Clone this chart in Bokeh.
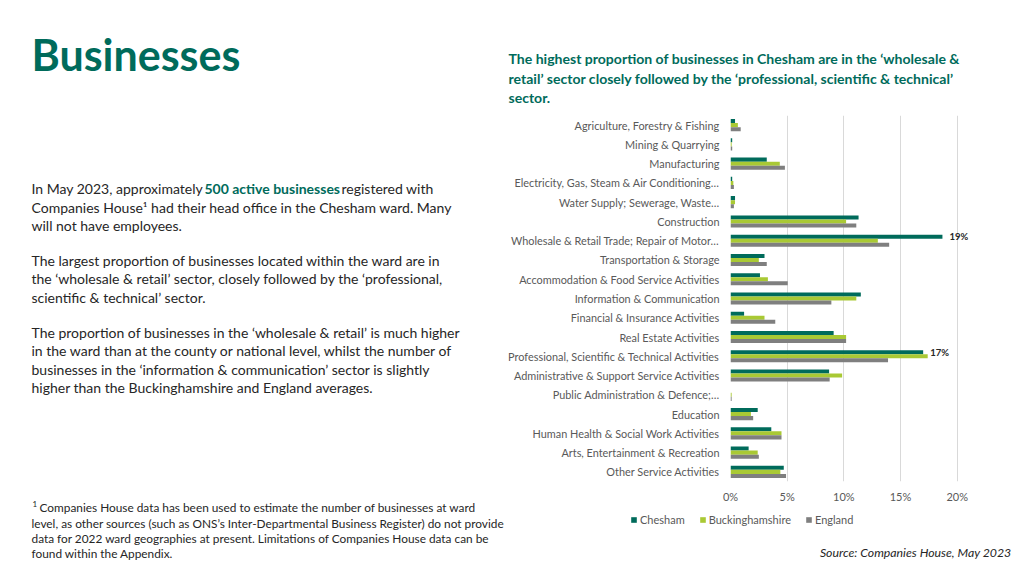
from bokeh.plotting import figure
from bokeh.models import (ColumnDataSource, FactorRange, Range1d, FixedTicker,
                          PrintfTickFormatter, Legend, LegendItem, LabelSet)
from bokeh.core.properties import value
from bokeh.layouts import row, column
from bokeh.transform import dodge
from bokeh.embed import file_html
from bokeh.resources import INLINE

# ---------------- data ----------------
sectors = [
    "Agriculture, Forestry & Fishing",
    "Mining & Quarrying",
    "Manufacturing",
    "Electricity, Gas, Steam & Air Conditioning…",
    "Water Supply; Sewerage, Waste…",
    "Construction",
    "Wholesale & Retail Trade; Repair of Motor…",
    "Transportation & Storage",
    "Accommodation & Food Service Activities",
    "Information & Communication",
    "Financial & Insurance Activities",
    "Real Estate Activities",
    "Professional, Scientific & Technical Activities",
    "Administrative & Support Service Activities",
    "Public Administration & Defence;…",
    "Education",
    "Human Health & Social Work Activities",
    "Arts, Entertainment & Recreation",
    "Other Service Activities",
]
chesham = [0.4, 0.15, 3.2, 0.15, 0.4, 11.3, 18.7, 3.0, 2.6, 11.5, 1.2, 9.1, 17.0, 8.7, 0.0, 2.4, 3.6, 1.6, 4.7]
bucks   = [0.65, 0.1, 4.35, 0.25, 0.4, 10.2, 13.0, 2.5, 3.3, 11.1, 3.0, 10.2, 17.4, 9.85, 0.1, 1.8, 4.5, 2.4, 4.4]
england = [0.9, 0.15, 4.8, 0.3, 0.3, 11.1, 14.0, 3.2, 5.05, 8.9, 3.95, 10.2, 13.9, 8.75, 0.1, 2.0, 4.5, 2.5, 4.9]
series_names = ["Chesham", "Buckinghamshire", "England"]
series_colors = ["#006B5B", "#A9C934", "#7F7F7F"]
x_ticks = [0, 5, 10, 15, 20]

TEAL = series_colors[0]
INK = "#262626"
AXIS_INK = "#595959"
FONT = "Lato"

# ---------------- layout (page pixels) ----------------
W, H = 1016, 568
SPLIT = 505                       # left text column | right chart column
TOP_H = 110                       # right column: title strip height
CH_Y1 = 510                       # bottom of chart figure
FL, FR, FT, FB = 730, 968, 115, 481   # chart frame edges in page coordinates


def text_panel(x0, x1, y0, y1):
    f = figure(width=x1 - x0, height=y1 - y0, output_backend="svg", toolbar_location=None,
               x_range=Range1d(x0, x1), y_range=Range1d(y1, y0),
               x_axis_type=None, y_axis_type=None, min_border=0, frame_align=False)
    f.outline_line_color = None
    f.grid.visible = False
    f.border_fill_color = "white"
    return f


def put(f, x, y, s, size, color=INK, style="normal", align="left"):
    f.text(x=[x], y=[y], text=[s], text_font=value(FONT), text_font_size=value(size),
           text_color=color, text_font_style=style, text_align=align, text_baseline="middle")


# ---------- left text column ----------
left = text_panel(0, SPLIT, 0, H)
put(left, 31, 54, "Businesses", "43px", TEAL, "bold")

BS = "14px"
put(left, 31, 188, "In May 2023, approximately", BS)
put(left, 204, 188, "500 active businesses", BS, TEAL, "bold")
put(left, 341, 188, "registered with", BS)
body = [
    (206.5, "Companies House¹ had their head office in the Chesham ward. Many"),
    (225, "will not have employees."),
    (260, "The largest proportion of businesses located within the ward are in"),
    (278, "the ‘wholesale & retail’ sector, closely followed by the ‘professional,"),
    (296.5, "scientific & technical’ sector."),
    (332, "The proportion of businesses in the ‘wholesale & retail’ is much higher"),
    (350, "in the ward than at the county or national level, whilst the number of"),
    (368.5, "businesses in the ‘information & communication’ sector is slightly"),
    (387, "higher than the Buckinghamshire and England averages."),
]
for y, s in body:
    put(left, 31, y, s, BS)

put(left, 32, 503, "1", "8px")
foot = [
    (507, "Companies House data has been used to estimate the number of businesses at ward", 39),
    (522.5, "level, as other sources (such as ONS’s Inter-Departmental Business Register) do not provide", 31),
    (538, "data for 2022 ward geographies at present. Limitations of Companies House data can be", 31),
    (553, "found within the Appendix.", 31),
]
for y, s, x in foot:
    put(left, x, y, s, "11.85px")

# ---------- right column: chart title ----------
top = text_panel(SPLIT, W, 0, TOP_H)
for i, line in enumerate(["The highest proportion of businesses in Chesham are in the ‘wholesale &",
                          "retail’ sector closely followed by the ‘professional, scientific & technical’",
                          "sector."]):
    put(top, 508, 58 + i * 19.5, line, "14.05px", TEAL, "bold")

# ---------- right column: chart ----------
src = ColumnDataSource(dict(sector=sectors, chesham=chesham, bucks=bucks, england=england))
p = figure(width=W - SPLIT, height=CH_Y1 - TOP_H, output_backend="svg", toolbar_location=None,
           y_range=FactorRange(factors=list(reversed(sectors)), range_padding=0),
           x_range=Range1d(0, 21), frame_align=False,
           min_border_left=FL - SPLIT, min_border_right=W - FR,
           min_border_top=FT - TOP_H, min_border_bottom=CH_Y1 - FB)
p.outline_line_color = None
p.border_fill_color = "white"

bw = 0.21
for col, off, c in zip(["chesham", "bucks", "england"], [bw, 0, -bw], series_colors):
    p.hbar(y=dodge("sector", off, range=p.y_range), right=col, left=0, height=bw,
           source=src, color=c, line_color=None)

lab_idx = [i for i, v in enumerate(chesham) if v >= 15]
lab_src = ColumnDataSource(dict(sector=[sectors[i] for i in lab_idx],
                                v=[chesham[i] for i in lab_idx],
                                t=[f"{round(chesham[i])}%" for i in lab_idx]))
p.add_layout(LabelSet(x="v", y=dodge("sector", bw, range=p.y_range), text="t", source=lab_src,
                      x_offset=7, text_baseline="middle", text_font=value(FONT),
                      text_font_style="bold", text_font_size=value("9.5px"), text_color=INK))

for ax in (p.xaxis, p.yaxis):
    ax.axis_line_color = None
    ax.major_tick_line_color = None
    ax.minor_tick_line_color = None
    ax.major_tick_out = 0
    ax.major_tick_in = 0
    ax.minor_tick_out = 0
    ax.minor_tick_in = 0
    ax.major_label_text_font = FONT
    ax.major_label_text_color = AXIS_INK

p.xaxis.ticker = FixedTicker(ticks=x_ticks)
p.xaxis.formatter = PrintfTickFormatter(format="%d%%")
p.xaxis.major_label_standoff = 8
p.xaxis.major_label_text_font_size = "11px"

p.yaxis.major_label_standoff = 11
p.yaxis.major_label_text_font_size = "10.9px"

p.xgrid.grid_line_color = "#D9D9D9"
p.xgrid.ticker = FixedTicker(ticks=x_ticks)
p.ygrid.grid_line_color = None

# ---------- right column: legend + source ----------
bot = text_panel(SPLIT, W, CH_Y1, H)
# legend keys: one off-screen square per series so the legend can draw its swatch
keys = [bot.rect(x=[-1e4], y=[-1e4], width=1, height=1, color=c, line_color=None)
        for c in series_colors]
legend = Legend(items=[LegendItem(label=n, renderers=[r]) for n, r in zip(series_names, keys)],
                orientation="horizontal", location=(630 - SPLIT, H - 526),
                glyph_width=7, glyph_height=7, label_height=12, label_standoff=3,
                spacing=14, padding=0, margin=0, border_line_color=None,
                background_fill_alpha=0, label_text_font=FONT,
                label_text_font_size="11px", label_text_color=AXIS_INK)
bot.add_layout(legend, "center")
put(bot, 1011, 552, "Source: Companies House, May 2023", "12.3px", INK, "italic", "right")

layout = row(left, column(top, p, bot, spacing=0), spacing=0)
open("out.html", "w").write(file_html(layout, INLINE))
